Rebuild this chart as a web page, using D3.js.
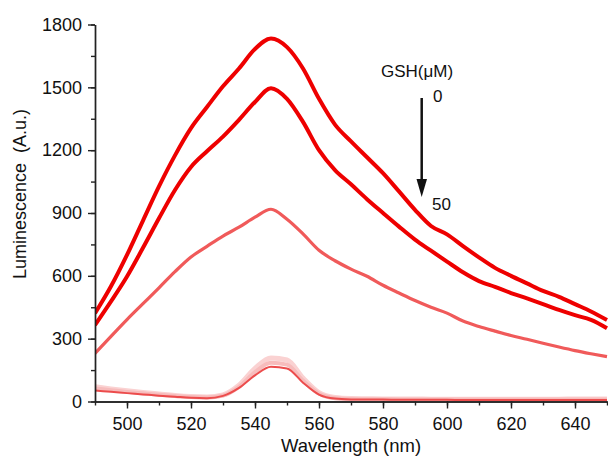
<!DOCTYPE html>
<html>
<head>
<meta charset="utf-8">
<script src="https://cdn.jsdelivr.net/npm/d3@7"></script>
<style>
  html, body { margin: 0; padding: 0; background: #fff; }
  svg { display: block; }
  text { font-family: "Liberation Sans", Arial, sans-serif; fill: #111; }
  .axis path, .axis line { stroke: #222; stroke-width: 1.4; }
</style>
</head>
<body>
<script>
// wavelength grid (nm), every 5 nm
var wavelength = [490, 495, 500, 505, 510, 515, 520, 525, 530, 535, 540, 545, 550, 555, 560, 565,
                  570, 575, 580, 585, 590, 595, 600, 605, 610, 615, 620, 625, 630, 635, 640, 645, 650];

// luminescence (A.u.) for each GSH concentration, 0 -> 50 uM
var gsh0 = [421, 550, 700, 864, 1027, 1175, 1305, 1406, 1505, 1590, 1683, 1733, 1692, 1590, 1445, 1322,
            1242, 1166, 1090, 1003, 915, 838, 798, 742, 688, 638, 600, 564, 528, 500, 465, 430, 389];
var gshA = [365, 478, 597, 734, 875, 1010, 1120, 1195, 1265, 1345, 1430, 1496, 1445, 1335, 1200, 1105,
            1037, 966, 900, 835, 773, 720, 668, 617, 575, 547, 518, 492, 465, 437, 412, 390, 350];
var gshB = [230, 311, 391, 467, 543, 620, 690, 741, 790, 832, 880, 918, 870, 800, 722, 672,
            632, 598, 555, 518, 482, 450, 422, 384, 358, 336, 315, 297, 278, 260, 243, 228, 214];
var gshC = [52, 46, 40, 34, 28, 23, 18, 16, 27, 65, 125, 166, 158, 90, 33, 14,
            10, 9, 9, 8, 8, 8, 8, 7, 7, 7, 7, 7, 7, 7, 7, 7, 7];
var gshD = [62, 54, 46, 39, 32, 26, 21, 19, 28, 70, 140, 185, 176, 100, 37, 16,
            12, 11, 11, 10, 10, 10, 10, 9, 9, 9, 9, 9, 9, 9, 9, 9, 10];
var gsh50 = [70, 60, 51, 43, 36, 29, 24, 22, 32, 78, 158, 208, 198, 112, 42, 19,
             14, 13, 12, 12, 12, 11, 11, 11, 11, 11, 11, 11, 11, 11, 12, 12, 12];

var yTicks = [0, 300, 600, 900, 1200, 1500, 1800];
var xTicks = [500, 520, 540, 560, 580, 600, 620, 640];

var W = 608, H = 457;

var svg = d3.select('body').append('svg')
    .attr('width', W)
    .attr('height', H);

var x = d3.scaleLinear().domain([490, 650]).range([95, 607]);
var y = d3.scaleLinear().domain([0, 1800]).range([401.5, 24.5]);

// clip the curves to the frame
svg.append('defs').append('clipPath')
    .attr('id', 'plotclip')
  .append('rect')
    .attr('x', 95).attr('y', 0)
    .attr('width', W - 95).attr('height', 401.5);

var line = d3.line()
    .x(function(d){ return x(d[0]) })
    .y(function(d){ return y(d[1]) })
    .curve(d3.curveMonotoneX);

// pale curves first so the stronger ones sit on top
var series = [
    {v: gsh50, color: '#fad2d2', w: 5},
    {v: gshD,  color: '#f7bcbc', w: 4},
    {v: gshC,  color: '#ec4c4c', w: 2},
    {v: gshB,  color: '#f05a5a', w: 3.2},
    {v: gshA,  color: '#ee0000', w: 4},
    {v: gsh0,  color: '#ee0000', w: 4}
];

var curves = svg.append('g').attr('clip-path', 'url(#plotclip)');

series.forEach(function(s){
    var pts = wavelength.map(function(w, i){ return [w, s.v[i]] });
    curves.append('path')
        .datum(pts)
        .attr('d', line)
        .attr('fill', 'none')
        .attr('stroke', s.color)
        .attr('stroke-width', s.w)
        .attr('stroke-linejoin', 'round');
});

/*
axes: major ticks with labels, minor ticks without
*/
var minorX = d3.range(490, 651, 10);
var minorY = d3.range(0, 1801, 150);

svg.append('g')
    .attr('class', 'axis')
    .attr('transform', 'translate(0,401.5)')
    .call(d3.axisBottom(x).tickValues(minorX).tickSize(4).tickFormat('').tickSizeOuter(0));

svg.append('g')
    .attr('class', 'axis')
    .attr('transform', 'translate(0,401.5)')
    .call(d3.axisBottom(x).tickValues(xTicks).tickSize(7).tickPadding(9)
        .tickFormat(d3.format('d')).tickSizeOuter(0));

svg.append('g')
    .attr('class', 'axis')
    .attr('transform', 'translate(95,0)')
    .call(d3.axisLeft(y).tickValues(minorY).tickSize(4).tickFormat('').tickSizeOuter(0));

svg.append('g')
    .attr('class', 'axis')
    .attr('transform', 'translate(95,0)')
    .call(d3.axisLeft(y).tickValues(yTicks).tickSize(7).tickPadding(6)
        .tickFormat(d3.format('d')).tickSizeOuter(0));

svg.selectAll('.axis text')
    .style('font-family', '"Liberation Sans", Arial, sans-serif')
    .style('font-size', '18px')
    .attr('fill', '#111');

// axis titles
svg.append('text')
    .attr('x', 351).attr('y', 452)
    .attr('text-anchor', 'middle')
    .style('font-size', '18.5px')
    .text('Wavelength (nm)');

svg.append('text')
    .attr('transform', 'translate(26,194) rotate(-90)')
    .attr('text-anchor', 'middle')
    .style('font-size', '18px')
    .style('white-space', 'pre')
    .text('Luminescence  (A.u.)');

// GSH annotation with arrow
svg.append('text')
    .attr('x', 381).attr('y', 77)
    .style('font-size', '17px')
    .text('GSH(\u03bcM)');

svg.append('text')
    .attr('x', 433).attr('y', 102)
    .style('font-size', '17px')
    .text('0');

svg.append('text')
    .attr('x', 432).attr('y', 210)
    .style('font-size', '17px')
    .text('50');

svg.append('line')
    .attr('x1', 421.7).attr('y1', 98)
    .attr('x2', 421.7).attr('y2', 182)
    .attr('stroke', '#111')
    .attr('stroke-width', 2.5);

svg.append('path')
    .attr('d', 'M416.5,179 L427,179 L421.7,197 Z')
    .attr('fill', '#111');
</script>
</body>
</html>
